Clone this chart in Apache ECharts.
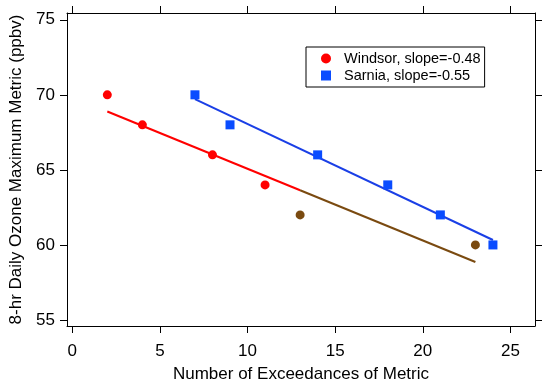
<!DOCTYPE html>
<html>
<head>
<meta charset="utf-8">
<script src="https://cdn.jsdelivr.net/npm/echarts@6/dist/echarts.min.js"></script>
<style>html,body{margin:0;padding:0;background:#fff}#c{width:550px;height:384px}</style>
</head>
<body>
<div id="c"></div>
<script>
var xTicks = [0, 5, 10, 15, 20, 25];
var yTicks = [55, 60, 65, 70, 75];
var windsorX = [2, 4, 8, 11, 13, 23];
var windsorY = [70, 68, 66, 64, 62, 60];
var windsorBrownIdx = [4, 5];
var sarniaX = [7, 9, 14, 18, 21, 24];
var sarniaY = [70, 68, 66, 64, 62, 60];
var windsorFitX = [2, 13, 23];
var windsorFitY = [68.89, 63.64, 58.86];
var sarniaFitX = [7, 24];
var sarniaFitY = [69.71, 60.33];
var legendNames = ['Windsor, slope=-0.48', 'Sarnia, slope=-0.55'];

var RED = '#ff0000', BROWN = '#7a4a10', BLUE = '#1a3fe6', BLUE_PT = '#0a4cff';
var FONT = '"Liberation Sans", Arial, sans-serif';
var AXFS = 17;

function pairs(xs, ys) { return xs.map(function (x, i) { return [x, ys[i]]; }); }
var wPts = pairs(windsorX, windsorY).map(function (p, i) {
  return windsorBrownIdx.indexOf(i) >= 0 ? { value: p, itemStyle: { color: BROWN } } : { value: p };
});
var wFit = pairs(windsorFitX, windsorFitY);

var axisCommon = {
  axisLine: { show: true, onZero: false, lineStyle: { color: '#000', width: 1 } },
  axisTick: { show: true, inside: false, length: 7, lineStyle: { color: '#000', width: 1 } },
  splitLine: { show: false }
};

var chart = echarts.init(document.getElementById('c'));
chart.setOption({
  animation: false,
  backgroundColor: '#fff',
  grid: { left: 67, right: 15, top: 13, bottom: 58, containLabel: false, outerBoundsMode: 'none' },
  legend: {
    orient: 'vertical', left: 306, top: 47,
    padding: [4, 4, 4, 15],
    borderColor: '#000', borderWidth: 1,
    itemWidth: 10, itemHeight: 10, itemGap: 2,
    textStyle: { fontFamily: FONT, fontSize: 14.5, color: '#000', padding: [0, 0, 0, 8] },
    data: [{ name: legendNames[0], icon: 'circle' }, { name: legendNames[1], icon: 'rect' }]
  },
  xAxis: [
    Object.assign({}, axisCommon, {
      type: 'value', min: -0.3, max: 26.4, position: 'bottom',
      name: 'Number of Exceedances of Metric', nameLocation: 'middle', nameGap: 40,
      nameTextStyle: { fontFamily: FONT, fontSize: AXFS, color: '#000' },
      axisTick: Object.assign({}, axisCommon.axisTick, { customValues: xTicks }),
      axisLabel: { customValues: xTicks, margin: 17, fontFamily: FONT, fontSize: AXFS, color: '#000' }
    }),
    Object.assign({}, axisCommon, {
      type: 'value', min: -0.3, max: 26.4, position: 'top',
      axisTick: Object.assign({}, axisCommon.axisTick, { customValues: xTicks }),
      axisLabel: { show: false }
    })
  ],
  yAxis: [
    Object.assign({}, axisCommon, {
      type: 'value', min: 54.6, max: 75.45, position: 'left',
      name: '8-hr Daily Ozone Maximum Metric (ppbv)', nameLocation: 'middle', nameGap: 42,
      nameRotate: 90,
      nameTextStyle: { fontFamily: FONT, fontSize: AXFS, color: '#000' },
      axisTick: Object.assign({}, axisCommon.axisTick, { customValues: yTicks }),
      axisLabel: { customValues: yTicks, margin: 12, fontFamily: FONT, fontSize: AXFS, color: '#000' }
    }),
    Object.assign({}, axisCommon, {
      type: 'value', min: 54.6, max: 75.45, position: 'right',
      axisTick: Object.assign({}, axisCommon.axisTick, { customValues: yTicks }),
      axisLabel: { show: false }
    })
  ],
  series: [
    { type: 'line', data: wFit.slice(0, 2), symbol: 'none', lineStyle: { color: RED, width: 2 }, silent: true },
    { type: 'line', data: wFit.slice(1), symbol: 'none', lineStyle: { color: BROWN, width: 2 }, silent: true },
    { type: 'line', data: pairs(sarniaFitX, sarniaFitY), symbol: 'none', lineStyle: { color: BLUE, width: 2 }, silent: true },
    { name: legendNames[0], type: 'scatter', symbol: 'circle', symbolSize: 9, itemStyle: { color: RED, opacity: 1 }, data: wPts, z: 5 },
    { name: legendNames[1], type: 'scatter', symbol: 'rect', symbolSize: 9, itemStyle: { color: BLUE_PT, opacity: 1 }, data: pairs(sarniaX, sarniaY), z: 5 }
  ]
});
</script>
</body>
</html>
